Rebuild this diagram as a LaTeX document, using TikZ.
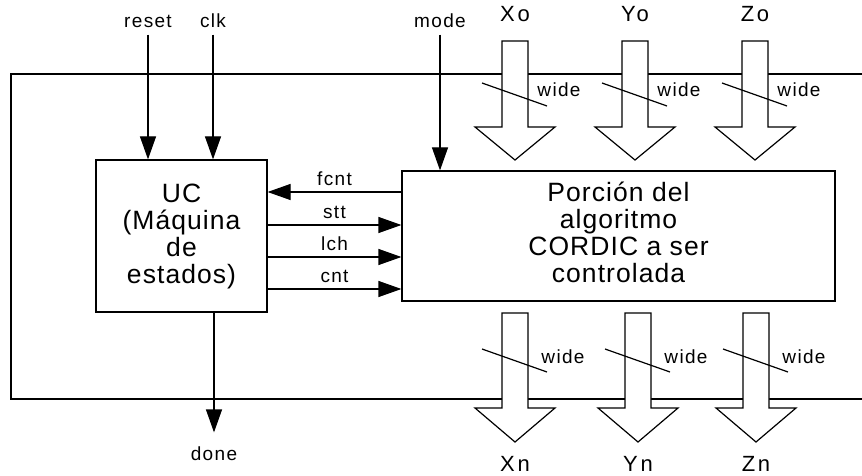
\documentclass[tikz,border=0pt]{standalone}
\usepackage{fontspec}
\setmainfont{Liberation Sans}
\newfontfamily\lblfont[LetterSpace=7]{Liberation Sans}
\newfontfamily\boxfont[LetterSpace=4]{Liberation Sans}
\newfontfamily\busfont[LetterSpace=12]{Liberation Sans}
\usetikzlibrary{arrows.meta}

\begin{document}
\begin{tikzpicture}[>={Triangle[length=23pt,width=16pt]},x=1pt,y=-1pt,line width=1.2pt,
  blk/.style={draw,inner sep=0pt,align=center,font=\boxfont\fontsize{26.5}{27}\selectfont},
  lbl/.style={inner sep=2pt,text height=13pt,text depth=4pt,font=\lblfont\fontsize{19}{20}\selectfont},
  buslbl/.style={inner sep=0pt,font=\busfont\fontsize{22}{24}\selectfont},
  bus/.style={draw,fill=white},
  sig/.style={->}]
  \useasboundingbox (0,0) rectangle (862,476);
  % outer frame
  \draw (862,74) -- (11,74) -- (11,399) -- (862,399);
  % blocks
  \node[blk,minimum width=171pt,minimum height=152pt] (uc) at (181.5,236) {UC\\(Máquina\\de\\estados)};
  \node[blk,minimum width=433pt,minimum height=130pt] (cordic) at (618.5,236) {Porción del\\algoritmo\\CORDIC a ser\\controlada\strut};
  % inputs and output
  \node[lbl,anchor=base] (reset) at (148,28) {reset};
  \node[lbl,anchor=base] (clk) at (213,28) {clk};
  \node[lbl,anchor=base] (mode) at (440,28) {mode};
  \node[lbl,anchor=base] (done) at (214,460) {done};
  \draw[sig] (reset.south) -- (reset.south |- uc.north);
  \draw[sig] (clk.south) -- (clk.south |- uc.north);
  \draw[sig] (mode.south) -- (mode.south |- cordic.north);
  \draw[sig] (done |- uc.south) -- ([yshift=12pt]done.north);
  % control signals
  \draw[sig] ([yshift=44pt]uc.east -| cordic.west) -- ([yshift=44pt]uc.east) node[lbl,midway,above] (fcnt) {fcnt};
  \foreach \dy/\nm in {11/stt,-21/lch,-53/cnt}
    \draw[sig] ([yshift=\dy pt]uc.east) -- ([yshift=\dy pt]uc.east -| cordic.west) node[lbl,midway,above] (\nm) {\nm};
  % data buses in
  \foreach \cx/\nm in {515/Xo,635/Yo,755/Zo}{
    \draw[bus] (\cx-13,41) -- (\cx-13,127) -- (\cx-40,127) -- (\cx,160) -- (\cx+40,127) -- (\cx+13,127) -- (\cx+13,41) -- cycle;
    \draw (\cx-33,83) -- (\cx+32,106);
    \node[buslbl,anchor=base] (\nm) at (\cx,22) {\nm};
    \node[lbl,anchor=base] (w\nm) at (\cx+44,97) {wide};
  }
  % data buses out
  \foreach \cx/\nm in {515/Xn,638/Yn,756/Zn}{
    \draw[bus] (\cx-13,313) -- (\cx-13,408) -- (\cx-40,408) -- (\cx,442) -- (\cx+40,408) -- (\cx+13,408) -- (\cx+13,313) -- cycle;
    \draw (\cx-33,349) -- (\cx+32,372);
    \node[buslbl,anchor=base] (\nm) at (\cx,471) {\nm};
    \node[lbl,anchor=base] (w\nm) at (\cx+48,363) {wide};
  }
\end{tikzpicture}
\end{document}
